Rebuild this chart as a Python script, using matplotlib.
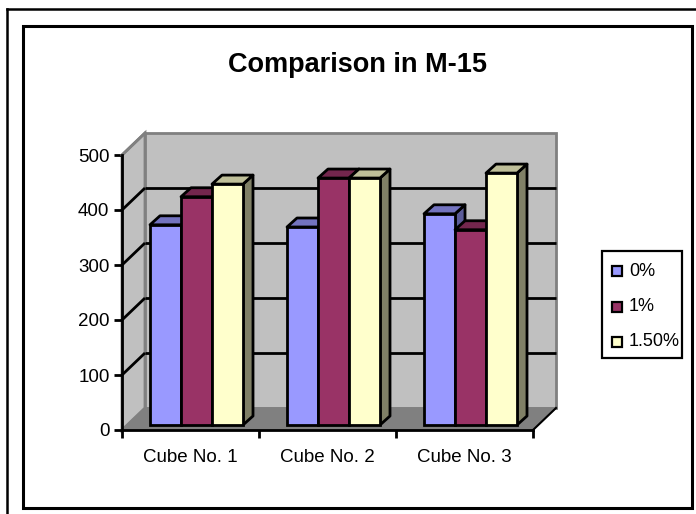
import matplotlib
matplotlib.use('Agg')
import matplotlib.pyplot as plt
from matplotlib.patches import Polygon, Rectangle
from matplotlib.lines import Line2D
import numpy as np

title = 'Comparison in M-15'
categories = ['Cube No. 1', 'Cube No. 2', 'Cube No. 3']
series_names = ['0%', '1%', '1.50%']
cube_0 = [364, 360, 384]
cube_1 = [415, 449, 355]
cube_15 = [438, 449, 458]
y_ticks = [0, 100, 200, 300, 400, 500]

front = ['#9999ff', '#993366', '#ffffcc']
top = ['#7373bf', '#73264d', '#bfbf99']
side = ['#5c5c99', '#5c1f3d', '#808066']

W, H = 696, 514
plt.rcParams['font.family'] = ['Liberation Sans', 'DejaVu Sans']
fig = plt.figure(figsize=(W / 100, H / 100), dpi=100)

# plot area in pixels: x 122..533, y 430 (0) .. 155 (500)
ax = fig.add_axes([122 / W, 1 - 430 / H, 411 / W, 275 / H])
ax.set_xlim(0, 3)
ax.set_ylim(0, 500)
ax.patch.set_visible(False)
for s in ax.spines.values():
    s.set_visible(False)

# depth of the fake 3d box, data units
dx = 23 / 137
dy = 22 / 0.55

# floor and walls
ax.add_patch(Polygon([[0, 0], [dx, dy], [dx, 500 + dy], [0, 500]], fc='#c0c0c0', ec='#808080', lw=2, clip_on=False, zorder=1))
ax.add_patch(Rectangle((dx, dy), 3, 500, fc='#c0c0c0', ec='#808080', lw=2, clip_on=False, zorder=1))
ax.add_patch(Polygon([[0, 0], [3, 0], [3 + dx, dy], [dx, dy]], fc='#808080', ec='#808080', lw=1, clip_on=False, zorder=2))

# gridlines on both walls
for v in y_ticks[1:-1]:
    ax.plot([0, dx], [v, v + dy], color='black', lw=2, clip_on=False, zorder=3, solid_capstyle='butt')
    ax.plot([dx, 3 + dx], [v + dy, v + dy], color='black', lw=2, clip_on=False, zorder=3, solid_capstyle='butt')
ax.plot([0, dx], [500, 500 + dy], color='#808080', lw=2, clip_on=False, zorder=3)

# bars
bar_w = 31 / 137
bar_dx = 10 / 137
bar_dy = 9 / 0.55
base = 5 / 0.55
start = 28 / 137
all_values = [cube_0, cube_1, cube_15]
z = 4
for c in range(len(categories)):
    for s in range(len(series_names)):
        x0 = c + start + s * bar_w
        x1 = x0 + bar_w
        y1 = base + all_values[s][c]
        ax.add_patch(Polygon([[x1, base], [x1 + bar_dx, base + bar_dy], [x1 + bar_dx, y1 + bar_dy], [x1, y1]],
                             fc=side[s], ec='black', lw=2, clip_on=False, zorder=z, joinstyle='round'))
        ax.add_patch(Polygon([[x0, y1], [x0 + bar_dx, y1 + bar_dy], [x1 + bar_dx, y1 + bar_dy], [x1, y1]],
                             fc=top[s], ec='black', lw=2, clip_on=False, zorder=z, joinstyle='round'))
        ax.add_patch(Rectangle((x0, base), bar_w, all_values[s][c], fc=front[s], ec='black', lw=2, clip_on=False, zorder=z + 0.5))
        z += 1

# front axis lines
ax.plot([0, 0], [0, 500], color='black', lw=2, clip_on=False, zorder=30, solid_capstyle='projecting')
ax.plot([0, 3], [0, 0], color='black', lw=2, clip_on=False, zorder=30, solid_capstyle='projecting')
ax.plot([3, 3 + dx], [0, dy], color='black', lw=1.5, clip_on=False, zorder=30)

ax.set_xticks([0, 1, 2, 3])
ax.set_xticklabels([])
ax.set_xticks([0.5, 1.5, 2.5], minor=True)
ax.set_xticklabels(categories, minor=True, fontsize=13.5)
ax.tick_params(axis='x', which='major', length=6, width=2, direction='out', color='black')
ax.tick_params(axis='x', which='minor', length=0, pad=14)
ax.set_yticks(y_ticks)
ax.tick_params(axis='y', length=6, width=2, direction='out', labelsize=13.5, pad=3)

fig.text(357 / W, 1 - 65 / H, title, ha='center', va='center', fontsize=19.5, fontweight='bold')

# legend drawn by hand to keep the square swatches
fig.add_artist(Rectangle((602 / W, 1 - 358 / H), 80 / W, 107 / H, transform=fig.transFigure, fc='white', ec='black', lw=1.6))
for i, name in enumerate(series_names):
    yy = 271 + i * 35.5
    fig.add_artist(Rectangle((612 / W, 1 - (yy + 5) / H), 10 / W, 10 / H, transform=fig.transFigure, fc=front[i], ec='black', lw=1.6))
    fig.text(629 / W, 1 - yy / H, name, ha='left', va='center', fontsize=13)

# frames round the chart
fig.add_artist(Rectangle((22.5 / W, 1 - 508 / H), 669.5 / W, 482 / H, transform=fig.transFigure, fc='none', ec='black', lw=2.2))
fig.add_artist(Line2D([7 / W, 7 / W], [1 - 9 / H, 0], color='black', lw=1.8))
fig.add_artist(Line2D([7 / W, 1], [1 - 9 / H, 1 - 9 / H], color='black', lw=1.8))

fig.savefig('out.png', dpi=100)
plt.close(fig)
